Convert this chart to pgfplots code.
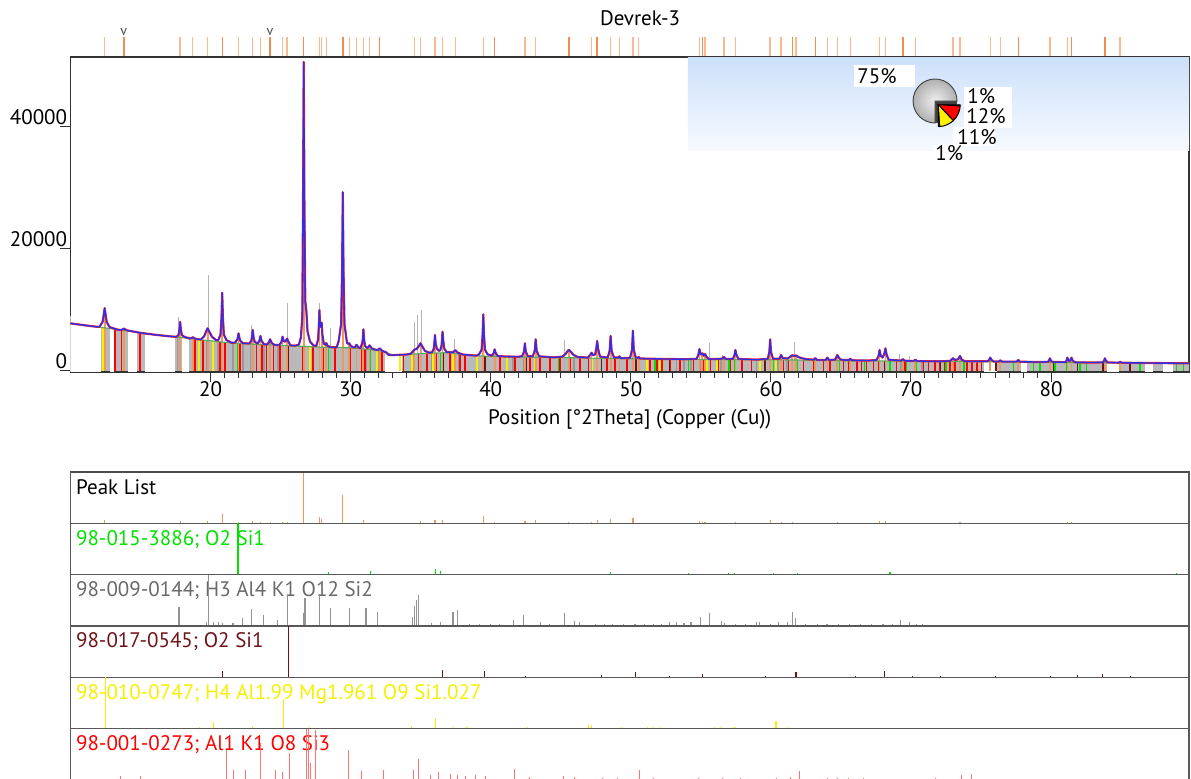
\documentclass[border=0pt]{standalone}
\usepackage{fontspec}
\setmainfont{PT Sans}
\usepackage{pgfplots}
\pgfplotsset{compat=1.18}
\usepackage{pgfplotstable}

\definecolor{pklight}{RGB}{250,185,145}
\definecolor{pkdark}{RGB}{242,140,80}
\definecolor{pkstick}{RGB}{240,150,95}
\definecolor{crgreen}{RGB}{0,225,0}
\definecolor{musgray}{RGB}{105,105,105}
\definecolor{qzdark}{RGB}{110,20,25}
\definecolor{chlyellow}{RGB}{245,240,0}
\definecolor{bandgray}{RGB}{185,185,185}
\definecolor{obsred}{RGB}{255,35,35}
\definecolor{calcblue}{RGB}{45,45,235}
\definecolor{bggreen}{RGB}{95,170,95}
\definecolor{bluetop}{RGB}{205,224,250}
\definecolor{bluebot}{RGB}{246,250,255}

% measured profile, counts vs 2theta
\pgfplotstableread{
x y
10.0 7800
10.5 7650
11.0 7500
11.5 7350
12.0 7220
12.09 7330
12.29 8040
12.38 9330
12.44 10300
12.50 9330
12.59 8000
12.79 7200
13.3 6810
13.6 6700
13.75 6850
13.81 6960
13.87 6850
14.05 6650
15.0 6250
16.0 5950
17.0 5700
17.55 5600
17.71 5880
17.78 6780
17.83 8050
17.88 6780
17.95 5880
18.13 5600
18.5 5330
18.67 5430
18.73 5560
18.79 5430
18.95 5250
19.3 5150
19.55 5700
19.7 6600
19.79 7000
19.9 6500
20.1 5600
20.4 5050
20.55 5070
20.71 5960
20.78 8790
20.83 12830
20.88 8790
20.95 5960
21.13 5070
21.5 4620
21.75 4650
21.92 5200
21.96 5700
22.0 6170
22.05 5500
22.12 4950
22.3 4560
22.75 4500
22.9 4900
22.96 5600
23.01 6720
23.07 5500
23.15 4800
23.35 4480
23.48 4900
23.56 5740
23.63 5000
23.8 4400
24.0 4320
24.15 4650
24.25 5190
24.35 4650
24.55 4280
24.9 4250
25.05 4700
25.14 5630
25.23 4900
25.32 4800
25.42 5100
25.47 5300
25.53 4900
25.7 4200
26.0 4150
26.3 4300
26.45 5500
26.55 9000
26.6 27000
26.65 50650
26.7 27000
26.76 11500
26.84 9800
26.92 6500
27.1 4800
27.35 4200
27.55 4100
27.68 5200
27.73 7500
27.77 10000
27.82 7600
27.88 7200
27.93 7900
27.98 6000
28.08 4500
28.18 4300
28.26 4600
28.36 4100
28.6 3900
29.0 3870
29.14 4870
29.32 7670
29.39 16580
29.44 29300
29.49 16580
29.56 7670
29.74 4600
29.84 4450
29.9 4540
29.98 4200
30.15 3900
30.3 3850
30.42 4300
30.55 3850
30.7 3760
30.83 4600
30.87 5300
30.91 6830
30.96 5200
31.03 4100
31.2 3750
31.35 4200
31.5 3700
31.9 3400
32.08 3700
32.25 3300
32.5 3100
32.7 2650
33.0 2600
33.5 2650
34.0 2700
34.3 2850
34.55 3500
34.7 3600
34.85 4000
34.98 4540
35.1 4100
35.3 3300
35.6 3000
35.8 3050
35.93 3600
35.97 4400
36.02 5900
36.07 4500
36.15 3700
36.3 3300
36.4 3400
36.49 4200
36.52 5000
36.56 6440
36.61 5000
36.68 3700
36.85 3100
37.3 3050
37.47 3400
37.65 3000
38.0 2700
38.5 2600
39.0 2520
39.17 2740
39.35 3490
39.42 5880
39.47 9290
39.52 5880
39.59 3490
39.77 2740
40.1 2500
40.22 3000
40.28 3550
40.34 3000
40.5 2450
41.0 2380
42.0 2330
42.25 2450
42.38 3200
42.44 4540
42.5 3200
42.65 2420
43.0 2400
43.14 3300
43.21 5190
43.28 3300
43.45 2400
44.5 2230
45.1 2350
45.35 2800
45.5 3300
45.58 3440
45.7 3200
45.9 2650
46.2 2300
46.95 2200
47.12 2700
47.2 3000
47.3 2600
47.45 2700
47.54 3700
47.6 4920
47.66 3700
47.8 2350
48.35 2200
48.49 3300
48.56 5740
48.63 3300
48.8 2200
49.1 2200
49.19 2400
49.3 2100
49.95 2150
50.09 3500
50.15 6610
50.21 3500
50.35 2200
50.5 2150
50.56 2300
50.65 2050
52.0 1980
54.0 1930
54.7 2000
54.83 2700
54.9 3600
54.97 2800
55.05 2700
55.12 2900
55.2 2500
55.3 2790
55.4 2300
55.6 1950
56.5 2000
56.64 2300
56.8 1950
57.3 2000
57.41 2700
57.47 3440
57.53 2700
57.68 1980
59.0 1860
59.78 2000
59.89 3100
59.95 5190
60.01 3100
60.15 2000
60.6 2000
60.73 2620
60.85 2100
61.2 2050
61.4 2350
61.53 2600
61.65 2450
61.79 2550
61.95 2300
62.2 2100
62.5 1950
63.05 1850
63.17 2100
63.3 1800
63.9 1800
64.04 2190
64.15 1800
64.58 1850
64.68 2300
64.74 2620
64.82 2300
64.95 1900
65.2 1800
65.55 1780
65.67 2000
65.8 1750
67.0 1720
67.55 1800
67.69 2500
67.76 3440
67.84 2500
67.97 2200
68.1 2800
68.18 3710
68.26 2700
68.4 1850
69.3 1700
69.43 1950
69.55 1680
70.2 1640
70.31 1850
70.45 1620
72.0 1580
72.8 1650
73.0 2100
73.15 1800
73.35 1900
73.5 2460
73.63 1850
73.85 1600
75.5 1600
75.6 1900
75.66 2190
75.74 1850
75.9 1560
76.28 1560
76.38 1750
76.5 1540
77.55 1540
77.66 1800
77.78 1520
79.0 1470
79.78 1500
79.86 1750
79.92 2080
79.98 1750
80.1 1470
81.05 1450
81.12 1800
81.17 2190
81.24 1750
81.32 1600
81.4 1850
81.46 2190
81.53 1750
81.7 1420
83.0 1390
83.7 1420
83.79 1700
83.85 2080
83.91 1700
84.05 1400
84.83 1360
84.93 1500
85.05 1350
87.0 1310
89.85 1260
}\obsdata

% fitted background
\pgfplotstableread{
x y
10 7800
11 7500
12 7200
13 6900
14 6600
15 6250
16 5950
17 5700
18 5450
19 5200
20 4950
21 4700
22 4550
23 4400
24 4300
25 4200
26 4100
27 4000
28 3900
29 3850
30 3800
31 3600
32 3350
32.5 3100
33 2600
34 2700
35 2850
36 2950
37 3000
38 2700
39 2500
40 2400
42 2300
45 2200
50 2000
55 1900
60 1850
65 1700
70 1600
75 1520
80 1430
85 1350
89.85 1255
}\bgdata

\pgfplotsset{
  refpanel/.style={scale only axis, anchor=south west, width=559.25pt,
    height=25.67pt, xmin=10, xmax=89.85, ymin=0, xtick=\empty, ytick=\empty,
    axis line style={draw=black!65, line width=0.8pt}},
  stick/.style={ycomb, line width=0.6pt},
}
\newcommand{\panellabel}[2]{\node[anchor=base west, inner sep=0pt, text=#1]
  at (rel axis cs:0,1) [xshift=2.6pt, yshift=-11pt] {#2};}

\begin{document}
\begin{tikzpicture}[font=\fontsize{10.5}{12.6}\selectfont]
\useasboundingbox (0,0) rectangle (595.5pt,389pt);
\clip (0,0) rectangle (595.5pt,389pt);

\node at (320pt,380pt) {Devrek-3};

% peak positions above the scan
\begin{axis}[at={(35.25pt,360.5pt)}, anchor=south west, scale only axis,
  width=559.25pt, height=10pt, xmin=10, xmax=89.85, ymin=0, ymax=1,
  hide axis, clip=false]
\addplot[ycomb, pklight, line width=0.7pt] coordinates {
(12.44,1)(17.83,1)(18.73,1)(19.79,1)(22.0,1)(23.01,1)(23.56,1)(25.14,1)(25.47,1)
(27.77,1)(27.93,1)(28.26,1)(29.9,1)(30.42,1)(30.91,1)(31.35,1)(34.55,1)(34.98,1)
(36.02,1)(36.56,1)(37.47,1)(39.47,1)(42.44,1)(43.21,1)(47.2,1)(48.56,1)(49.19,1)
(50.15,1)(50.56,1)(54.9,1)(55.3,1)(56.64,1)(57.47,1)(59.95,1)(60.73,1)(61.79,1)
(64.04,1)(64.74,1)(65.67,1)(67.76,1)(68.18,1)(70.31,1)(73.0,1)(73.5,1)(75.66,1)
(76.38,1)(79.92,1)(81.17,1)(84.93,1)};
\addplot[ycomb, pkdark, line width=0.7pt] coordinates {
(13.81,1)(20.83,1)(24.25,1)(26.65,1)(29.44,1)(32.08,1)(40.28,1)(45.58,1)(47.6,1)
(55.1,1)(61.53,1)(63.17,1)(69.43,1)(77.66,1)(81.46,1)(83.85,1)};
\node[anchor=south, font=\fontsize{7}{8}\selectfont, text=black!70, inner sep=0pt]
  at (axis cs:13.81,1.05) {v};
\node[anchor=south, font=\fontsize{7}{8}\selectfont, text=black!70, inner sep=0pt]
  at (axis cs:24.25,1.05) {v};
\end{axis}

% main scan
\begin{axis}[at={(35.25pt,203pt)}, anchor=south west, scale only axis,
  width=559.25pt, height=157.5pt,
  xmin=10, xmax=89.85, ymin=-164, ymax=51465,
  xtick={20,30,...,80}, minor x tick num=9, ytick={0,20000,40000},
  tick pos=left, tick align=outside,
  major tick length=5pt, minor tick length=3pt,
  tick style={black!80, line width=0.5pt},
  axis line style={black!80, line width=0.6pt},
  scaled y ticks=false,
  /pgf/number format/1000 sep={},
  /pgf/number format/assume math mode=true,
  xticklabel style={anchor=north, inner sep=0pt, yshift=0.5pt},
  yticklabel style={anchor=east, inner sep=0pt, xshift=3.5pt, yshift=5pt},
  xlabel={Position [°2Theta] (Copper (Cu))},
  xlabel style={at={(axis description cs:0.5,0)}, anchor=center, yshift=-23.5pt},
  clip=true]

% phase quantity inset background
\shade[top color=bluetop, bottom color=bluebot]
  (axis cs:54.08,51465) rectangle (axis cs:89.85,36220);

% reference line band under the scan
\addplot[fill=bandgray, draw=none] table {\bgdata} \closedcycle;
\addplot[fill=white, draw=none] coordinates {(9.9,-200)(9.9,9000)(12.15,9000)(12.15,-200)} -- cycle;
\addplot[fill=white, draw=none] coordinates {(12.8,-200)(12.8,9000)(13.12,9000)(13.12,-200)} -- cycle;
\addplot[fill=white, draw=none] coordinates {(14.08,-200)(14.08,9000)(14.75,9000)(14.75,-200)} -- cycle;
\addplot[fill=white, draw=none] coordinates {(15.35,-200)(15.35,9000)(17.45,9000)(17.45,-200)} -- cycle;
\addplot[fill=white, draw=none] coordinates {(17.95,-200)(17.95,9000)(18.45,9000)(18.45,-200)} -- cycle;
\addplot[fill=white, draw=none] coordinates {(32.45,-200)(32.45,9000)(33.7,9000)(33.7,-200)} -- cycle;
\addplot[fill=white, draw=none] coordinates {(75.25,-200)(75.25,9000)(76.15,9000)(76.15,-200)} -- cycle;
\addplot[fill=white, draw=none] coordinates {(77.85,-200)(77.85,9000)(78.3,9000)(78.3,-200)} -- cycle;
\addplot[fill=white, draw=none] coordinates {(84.0,-200)(84.0,9000)(84.85,9000)(84.85,-200)} -- cycle;
\addplot[fill=white, draw=none] coordinates {(86.7,-200)(86.7,9000)(87.3,9000)(87.3,-200)} -- cycle;
\addplot[fill=white, draw=none] coordinates {(88.0,-200)(88.0,9000)(88.7,9000)(88.7,-200)} -- cycle;

% 98-009-0144 lines
\addplot[ycomb, gray!80, line width=0.8pt] coordinates {
(17.69,5530)(19.7,5080)(20.2,4900)(20.54,4820)(21.6,4610)(22.3,4500)(22.9,4410)
(23.8,4320)(24.8,4220)(26.71,4030)(28.57,3870)(29.85,3800)(31.12,3570)(31.94,3360)
(34.49,2780)(35.76,2930)(37.4,2880)(37.7,2790)(41.6,2320)(42.34,2290)(43.54,2250)
(45.27,2190)(45.96,2160)(46.34,2150)(52.77,1940)(53.26,1930)(53.8,1920)(54.3,1910)
(55.0,1900)(56.46,1890)(58.96,1860)(59.2,1860)(60.52,1840)(61.16,1810)(61.73,1800)
(69.27,1610)(69.91,1600)(70.8,1590)};
% 98-001-0273 lines
\addplot[ycomb, red, line width=0.8pt] coordinates {
(13.18,6850)(13.65,6700)(14.96,6260)(18.89,5230)(19.48,5080)(20.67,4780)(21.03,4700)
(22.1,4540)(23.29,4370)(23.65,4340)(24.0,4300)(24.48,4250)(24.96,4200)(25.43,4160)
(26.57,4040)(27.33,3970)(28.05,3900)(28.88,3860)(29.95,3800)(30.79,3640)(31.03,3590)
(32.22,3240)(33.76,2680)(34.47,2770)(34.83,2820)(35.43,2890)(36.14,2960)(37.09,2970)
(37.81,2760)(38.17,2670)(39.47,2450)(40.66,2370)(41.73,2310)(42.45,2290)(42.8,2280)
(43.52,2250)(44.23,2230)(44.95,2200)(45.66,2170)(46.38,2140)(46.97,2120)(47.57,2100)
(48.28,2070)(48.87,2050)(49.71,2010)(50.42,1990)(51.37,1970)(51.85,1960)(52.21,1960)
(52.8,1940)(53.52,1930)(54.47,1910)(55.18,1900)(55.66,1890)(56.25,1890)(57.09,1880)
(57.92,1870)(58.63,1860)(59.23,1860)(60.18,1850)(60.89,1820)(61.25,1810)(61.72,1800)
(62.32,1780)(63.03,1760)(63.75,1740)(64.22,1720)(64.7,1710)(65.18,1700)(65.53,1690)
(66.13,1680)(66.48,1670)(66.84,1660)(67.32,1650)(67.67,1650)(68.15,1640)(68.51,1630)
(68.98,1620)(69.58,1610)(70.41,1590)(70.89,1590)(71.24,1580)(71.72,1570)(72.08,1570)
(72.43,1560)(72.79,1560)(73.15,1550)(73.5,1540)(73.98,1540)(74.34,1530)(74.7,1520)
(75.05,1520)};
% 98-010-0747 lines
\addplot[ycomb, chlyellow, line width=0.9pt] coordinates {
(12.32,7100)(18.77,5260)(19.19,5150)(20.2,4900)(23.05,4400)(27.09,3990)(31.86,3380)
(33.52,2650)(34.36,2750)(35.9,2940)(37.33,2900)(39.0,2500)(41.14,2340)(43.16,2270)
(47.21,2110)(51.14,1980)(52.09,1960)(55.42,1900)(56.13,1890)(59.23,1860)(60.36,1840)
(61.84,1790)};
% 98-015-3886 lines
\addplot[ycomb, crgreen, line width=0.7pt] coordinates {
(21.96,4550)(28.4,3880)(31.4,3500)(36.06,2950)(36.4,2970)(40.3,2390)(44.83,2210)
(48.56,2060)(51.73,1970)(54.1,1920)(57.0,1880)(57.4,1880)(60.2,1850)(61.9,1790)
(64.9,1700)(66.7,1670)(68.5,1630)(69.7,1610)(70.4,1590)(72.5,1560)(73.8,1540)
(76.12,1500)(77.31,1480)(78.74,1450)(79.2,1450)(80.29,1430)(81.12,1410)(82.07,1400)
(82.55,1390)(84.93,1350)(86.36,1320)(88.97,1270)(89.45,1260)};
% 98-017-0545 lines
\addplot[ycomb, qzdark, line width=0.8pt] coordinates {
(20.79,4740)(25.55,4150)(36.6,2980)(39.6,2480)(42.5,2290)(47.9,2080)(50.35,1990)
(52.77,1940)(55.1,1900)(59.6,1850)(61.8,1800)(68.1,1640)(72.1,1570)(76.05,1500)
(80.17,1430)(81.9,1400)(83.7,1370)(85.65,1340)};
% strong 98-009-0144 lines above the scan
\addplot[ycomb, gray!60, line width=0.5pt] coordinates {
(17.69,8800)(19.83,15700)(22.9,7540)(25.49,11100)(27.78,11200)(28.57,7000)
(34.55,8080)(34.8,9180)(35.05,10000)(37.4,5190)(45.3,5080)(55.65,4540)(56.55,2600)
(61.7,4700)(69.2,2790)(69.9,2460)};
% peak list
\addplot[ycomb, pkstick, line width=0.9pt] coordinates {
(12.44,10300)(13.81,6960)(17.83,8050)(18.73,5560)(19.79,7000)(20.83,12830)(22.0,6170)
(23.01,6720)(23.56,5740)(24.25,5190)(25.14,5630)(25.47,5300)(26.65,50650)(27.77,10000)
(27.93,7900)(28.26,4600)(29.44,29300)(29.9,4540)(30.42,4300)(30.91,6830)(31.35,4200)
(32.08,3700)(34.55,3500)(34.98,4540)(36.02,5900)(36.56,6440)(37.47,3400)(39.47,9290)
(40.28,3550)(42.44,4540)(43.21,5190)(45.58,3440)(47.2,3000)(47.6,4920)(48.56,5740)
(49.19,2400)(50.15,6610)(50.56,2300)(54.9,3600)(55.1,2900)(55.3,2790)(56.64,2300)
(57.47,3440)(59.95,5190)(60.73,2620)(61.53,2600)(61.79,2550)(63.17,2100)(64.04,2190)
(64.74,2620)(65.67,2000)(67.76,3440)(68.18,3710)(69.43,1950)(70.31,1850)(73.0,2100)
(73.5,2460)(75.66,2190)(76.38,1750)(77.66,1800)(79.92,2080)(81.17,2190)(81.46,2190)
(83.85,2080)(84.93,1500)};

\addplot[bggreen, line width=0.6pt] table {\bgdata};
\addplot[obsred, line width=1.1pt, line join=round] table {\obsdata};
\addplot[calcblue, line width=0.7pt, line join=round] table {\obsdata};

% phase quantities
\coordinate (pc) at (axis cs:71.72,44253);
\fill[black!75] (pc) -- ++(0:11pt) arc[start angle=0, end angle=-90, radius=11pt] -- cycle;
\shadedraw[inner color=gray!12, outer color=gray!62, draw=black!75, line width=0.45pt]
  (pc) -- ++(0:11pt) arc[start angle=0, end angle=270, radius=11pt] -- cycle;
\filldraw[fill=black!70, draw=black, line width=0.3pt] ([shift={(1.6pt,-1.8pt)}]pc)
  -- ++(0:11pt) arc[start angle=0, end angle=-3.6, radius=11pt] -- cycle;
\filldraw[fill=red, draw=black, line width=0.5pt] ([shift={(1.6pt,-1.8pt)}]pc)
  -- ++(-3.6:11pt) arc[start angle=-3.6, end angle=-46.8, radius=11pt] -- cycle;
\filldraw[fill=yellow, draw=black, line width=0.5pt] ([shift={(1.6pt,-1.8pt)}]pc)
  -- ++(-46.8:11pt) arc[start angle=-46.8, end angle=-86.4, radius=11pt] -- cycle;
\filldraw[fill=black!70, draw=black, line width=0.3pt] ([shift={(1.6pt,-1.8pt)}]pc)
  -- ++(-86.4:11pt) arc[start angle=-86.4, end angle=-90, radius=11pt] -- cycle;
\end{axis}

% phase quantity labels
\fill[white] (427pt,345.5pt) rectangle (457.5pt,356.5pt);
\node[anchor=west, inner sep=0pt] at (428.5pt,351pt) {75\%};
\fill[white] (482pt,336.5pt) rectangle (506pt,345.5pt);
\node[anchor=west, inner sep=0pt] at (483.5pt,341pt) {1\%};
\fill[white] (482pt,325pt) rectangle (506pt,336.5pt);
\node[anchor=west, inner sep=0pt] at (483pt,331pt) {12\%};
\fill[white] (476.5pt,316pt) rectangle (497.5pt,325.5pt);
\node[anchor=west, inner sep=0pt] at (478.5pt,320.5pt) {11\%};
\fill[white] (466.5pt,308pt) rectangle (481.5pt,316.5pt);
\node[anchor=west, inner sep=0pt] at (467.5pt,312.3pt) {1\%};

% reference patterns
\begin{axis}[refpanel, at={(35.25pt,127.33pt)}, ymax=46570]
\panellabel{black}{Peak List}
\addplot[stick, pkstick] coordinates {
(12.44,3100)(13.81,300)(17.83,2550)(18.73,290)(19.79,2000)(20.83,8080)(22.0,1620)
(23.01,2320)(23.56,1390)(24.25,920)(25.14,1450)(25.47,1120)(26.65,46570)(27.77,6090)
(27.93,4000)(28.26,720)(29.44,25450)(29.9,740)(30.42,590)(30.91,3210)(31.35,680)
(32.08,370)(34.55,720)(34.98,1700)(36.02,2950)(36.56,3460)(37.47,480)(39.47,6820)
(40.28,1130)(42.44,2230)(43.21,2900)(45.58,1240)(47.2,890)(47.6,2810)(48.56,3680)
(49.19,370)(50.15,4610)(50.56,310)(54.9,1700)(55.1,1000)(55.3,890)(56.64,410)
(57.47,1550)(59.95,3340)(60.73,800)(61.53,800)(61.79,750)(63.17,350)(64.04,470)
(64.74,910)(65.67,310)(67.76,1770)(68.18,2070)(69.43,340)(70.31,260)(73.0,550)
(73.5,920)(75.66,660)(76.38,250)(77.66,330)(79.92,640)(81.17,780)(81.46,790)
(83.85,730)(84.93,150)};
\end{axis}

\begin{axis}[refpanel, at={(35.25pt,101.67pt)}, ymax=100]
\panellabel{crgreen}{98-015-3886; O2 Si1}
\addplot[stick, crgreen] coordinates {
(21.96,100)(28.4,6)(31.4,8)(36.06,11)(36.4,8)(42.6,2)(44.8,2)(48.56,6)(51.9,2)
(54.1,3)(57.0,3)(57.4,3)(60.2,4)(61.9,4)(64.9,2)(66.7,2)(68.5,5)(69.7,2)(70.4,2)
(72.5,1.5)(73.8,1.5)(77.1,1.5)(77.9,2)(79.2,2)(80.9,1.5)(81.5,1.5)(82.5,1)(84.9,1)
(86.4,1)(88.95,3)};
\end{axis}

\begin{axis}[refpanel, at={(35.25pt,76pt)}, ymax=100]
\panellabel{musgray}{98-009-0144; H3 Al4 K1 O12 Si2}
\addplot[stick, gray!85] coordinates {
(17.75,37)(19.7,7)(19.84,100)(20.2,7)(20.54,7)(20.85,5)(21.6,5)(22.3,15)(22.9,33)
(23.8,22)(24.8,12)(25.5,60)(26.64,25)(26.74,54)(27.8,63)(28.55,35)(29.9,35)(31.1,35)
(31.9,27)(34.4,17)(34.55,39)(34.68,50)(34.82,60)(35.76,5)(36.4,7)(37.3,27)(37.6,32)
(38.5,3)(39.2,3)(40.0,3)(40.6,3)(41.6,12)(42.34,22)(43.54,7)(44.2,3)(45.27,25)
(45.96,10)(46.34,7)(47.5,3)(48.1,3)(48.7,3)(49.5,3)(50.3,3)(51.0,3)(51.6,3)(52.2,3)
(52.77,7)(53.26,7)(53.8,5)(54.3,7)(55.0,17)(55.6,25)(56.46,10)(56.67,5)(57.5,3)
(58.2,3)(58.96,7)(59.2,7)(60.0,3)(60.52,7)(61.16,7)(61.57,27)(61.73,15)(62.5,3)
(63.3,3)(64.0,3)(64.8,3)(65.6,3)(66.4,3)(67.2,3)(68.0,3)(68.7,3)(69.27,12)(69.91,8)
(70.4,3)(70.8,3)};
\end{axis}

\begin{axis}[refpanel, at={(35.25pt,50.33pt)}, ymax=100]
\panellabel{qzdark}{98-017-0545; O2 Si1}
\addplot[stick, qzdark] coordinates {
(20.85,13)(25.55,100)(28.24,1.5)(29.6,1.5)(36.58,15)(39.55,12)(42.5,3)(47.9,4)
(50.35,10)(52.77,3)(55.1,7)(59.6,2)(61.8,10)(66.04,2)(68.1,13)(70.1,2)(72.1,3)
(74.0,1.5)(76.05,3)(78.0,1.5)(79.95,2)(81.9,5)(83.7,6)(85.65,3)};
\end{axis}

\begin{axis}[refpanel, at={(35.25pt,24.67pt)}, ymax=100]
\panellabel{chlyellow}{98-010-0747; H4 Al1.99 Mg1.961 O9 Si1.027}
\addplot[stick, chlyellow] coordinates {
(12.5,100)(19.19,4)(20.2,13)(23.0,5)(25.18,57)(27.05,3)(31.9,2)(33.6,2)(34.36,5)
(36.07,20)(37.35,3)(38.3,3)(38.9,2)(41.2,1.5)(42.65,3)(43.6,2)(47.0,8)(47.2,8)
(49.35,3)(51.2,3)(51.6,4)(52.1,3)(52.9,2)(54.3,2)(56.0,3)(56.4,3)(57.35,4)(57.5,4)
(59.1,2)(60.36,15)(60.8,2)(61.2,3)(61.9,2)};
\end{axis}

\begin{axis}[refpanel, at={(35.25pt,-1pt)}, ymax=100]
\panellabel{red}{98-001-0273; Al1 K1 O8 Si3}
\addplot[ycomb, line width=0.45pt, red!55] coordinates {
(13.54,8)(15.0,8)(21.1,59)(21.6,20)(22.48,20)(23.55,73)(24.6,20)(25.15,15)(25.62,53)
(26.88,100)(27.02,100)(27.15,33)(27.5,98)(29.86,59)(30.78,17)(32.33,20)(34.47,20)
(34.87,41)(35.71,10)(36.3,15)(37.09,12)(37.6,10)(38.2,8)(38.9,10)(39.6,8)(41.7,22)
(42.76,5)(45.2,8)(45.96,6)(48.0,4)(49.08,4)(50.6,20)(51.6,4)(54.85,4)(56.54,4)
(57.8,4)(60.43,4)(61.4,5)(62.06,18)(64.07,4)(64.75,4)(65.56,4)(66.6,3)(71.75,3)
(73.6,9)(74.3,11)};
\end{axis}

\draw[black!70, line width=1.4pt] (35.25pt,153pt) -- (594.5pt,153pt);
\end{tikzpicture}
\end{document}
